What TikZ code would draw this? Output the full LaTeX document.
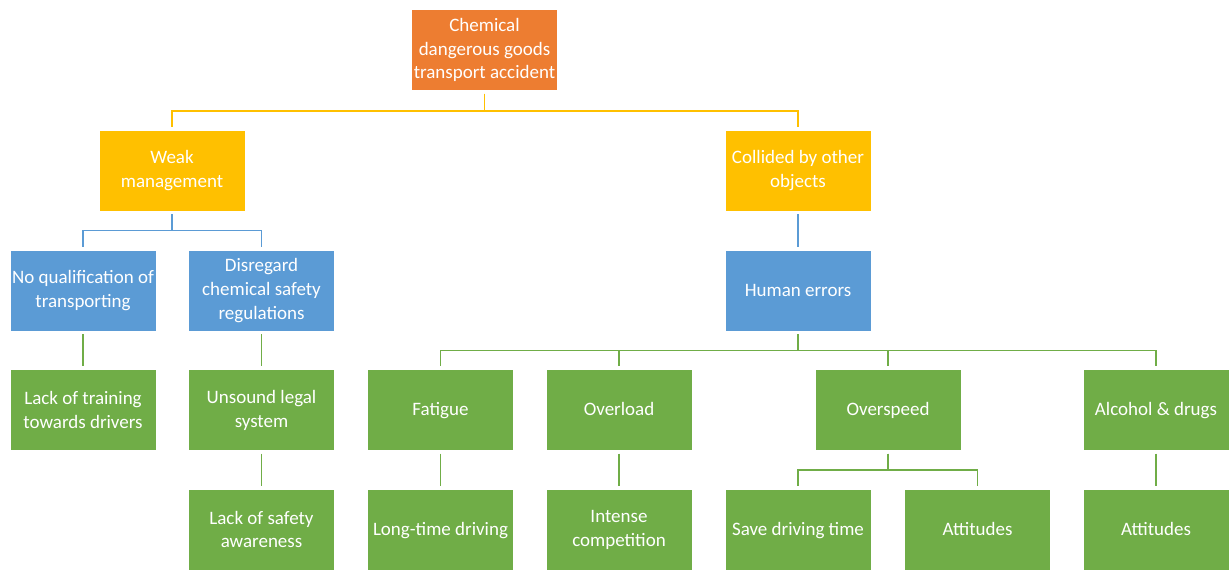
\documentclass[tikz,border=0pt]{standalone}
\usepackage{fontspec}
\setmainfont{Carlito}
\usepackage{tikz}
\usetikzlibrary{positioning,calc}

\definecolor{cOrange}{HTML}{ED7D31}
\definecolor{cGold}{HTML}{FFC000}
\definecolor{cBlue}{HTML}{5B9BD5}
\definecolor{cGreen}{HTML}{70AD47}

\begin{document}
\begin{tikzpicture}[
    x=0.025cm, y=-0.025cm,
    box/.style={rectangle, draw=white, line width=0.4pt, minimum width=3.65cm, minimum height=2.025cm,
      inner sep=1pt, align=center, text=white, font=\fontsize{13.5}{17}\selectfont},
    root/.style={box, fill=cOrange},
    lvlA/.style={box, fill=cGold},
    lvlB/.style={box, fill=cBlue},
    lvlC/.style={box, fill=cGreen},
    oneline/.style={text height=1.9ex, text depth=0.25ex},
    link/.style={line width=1.1pt, shorten <=2pt, shorten >=2pt}
  ]
  \useasboundingbox (0,0) rectangle (1232,570);

  \node[root] (acc) at (484.5,50) {Chemical\\dangerous goods\\transport accident};
  \node[lvlA] (weak) at (172,170.5) {Weak\\management};
  \node[lvlA] (coll) at (798,170.5) {Collided by other\\objects};

  \node[lvlB] (noqual) at (83,290.5) {No qualification of\\transporting};
  \node[lvlB] (disreg) at (261.5,290.5) {Disregard\\chemical safety\\regulations};
  \node[lvlB, oneline] (human) at (798,290.5) {Human errors};

  \node[lvlC] (train) at (83,410) {Lack of training\\towards drivers};
  \node[lvlC] (legal) at (261.5,410) {Unsound legal\\system};
  \node[lvlC, oneline] (fatigue) at (440.5,410) {Fatigue};
  \node[lvlC, oneline] (overload) at (619,410) {Overload};
  \node[lvlC, oneline] (overspeed) at (888,410) {Overspeed};
  \node[lvlC, oneline] (alcohol) at (1156,410) {Alcohol \& drugs};

  \node[lvlC] (aware) at (261.5,529.5) {Lack of safety\\awareness};
  \node[lvlC, oneline] (longtime) at (440.5,529.5) {Long-time driving};
  \node[lvlC] (compet) at (619,529.5) {Intense\\competition};
  \node[lvlC, oneline] (savetime) at (798,529.5) {Save driving time};
  \node[lvlC, oneline] (attA) at (977.5,529.5) {Attitudes};
  \node[lvlC, oneline] (attB) at (1156,529.5) {Attitudes};

  % accident -> causes
  \draw[link, cGold] (acc.south) -- ++(0,20) -| (weak.north);
  \draw[link, cGold] (acc.south) -- ++(0,20) -| (coll.north);
  % weak management
  \draw[link, cBlue] (weak.south) -- ++(0,19) -| (noqual.north);
  \draw[link, cBlue] (weak.south) -- ++(0,19) -| (disreg.north);
  \draw[link, cBlue] (coll) -- (human);
  % human errors
  \foreach \k in {fatigue,overload,overspeed,alcohol}
    \draw[link, cGreen] (human.south) -- ++(0,19) -| (\k.north);
  % single chains
  \draw[link, cGreen] (noqual) -- (train);
  \draw[link, cGreen] (disreg) -- (legal);
  \draw[link, cGreen] (legal) -- (aware);
  \draw[link, cGreen] (fatigue) -- (longtime);
  \draw[link, cGreen] (overload) -- (compet);
  \draw[link, cGreen] (alcohol) -- (attB);
  % overspeed
  \draw[link, cGreen] (overspeed.south) -- ++(0,19) -| (savetime.north);
  \draw[link, cGreen] (overspeed.south) -- ++(0,19) -| (attA.north);
\end{tikzpicture}
\end{document}
